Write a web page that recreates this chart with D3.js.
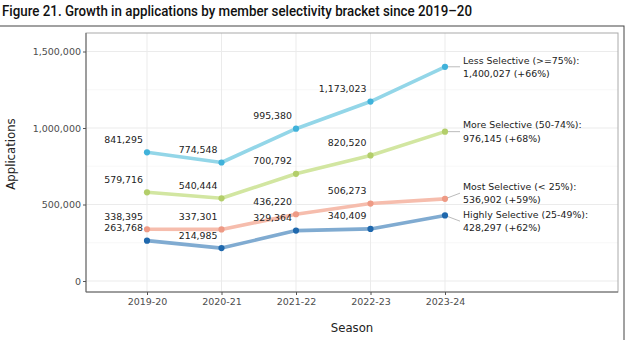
<!DOCTYPE html>
<html><head><meta charset="utf-8">
<script src="https://cdn.jsdelivr.net/npm/d3@7"></script>
<style>body{margin:0;background:#fff}svg{display:block}</style>
</head><body>
<svg id="c" width="626" height="340"></svg>
<script>
const seasons = ["2019-20","2020-21","2021-22","2022-23","2023-24"];
const seriesNames = ["Less Selective (>=75%)","More Selective (50-74%)","Most Selective (< 25%)","Highly Selective (25-49%)"];
const lessSelective = [841295, 774548, 995380, 1173023, 1400027];
const moreSelective = [579716, 540444, 700792, 820520, 976145];
const mostSelective = [338395, 337301, 436220, 506273, 536902];
const highlySelective = [263768, 214985, 329364, 340409, 428297];
const growthPct = ["+66%","+68%","+59%","+62%"];
const yTicks = [0, 500000, 1000000, 1500000];
const yMinorTicks = [250000, 750000, 1250000];
const lineColors = ["#93d6e8","#d2e6a1","#f6bdad","#80abd1"];
const pointColors = ["#40b2da","#b3ce6a","#ee9a85","#1f68ad"];

const values = [lessSelective, moreSelective, mostSelective, highlySelective];
const svg = d3.select("#c");
const font = "'DejaVu Sans', sans-serif";
const P = {l:86, r:618, t:33, b:292};

// outer frame
svg.append("rect").attr("x",-2).attr("y",26).attr("width",626).attr("height",330)
  .attr("fill","none").attr("stroke","#444").attr("stroke-width",1);

// title
svg.append("text").attr("x",2).attr("y",16).text("Figure 21. Growth in applications by member selectivity bracket since 2019\u201320")
  .attr("font-family","Roboto, sans-serif").attr("font-weight",500).attr("font-size",15.5).attr("fill","#111")
  .attr("textLength",470).attr("lengthAdjust","spacingAndGlyphs");

const x = d3.scalePoint().domain(seasons).range([147, 445]);
const y = d3.scaleLinear().domain([0, 1500000]).range([281, 51.5]);

const g = svg.append("g");
// grid
g.selectAll(".mn").data(yMinorTicks).join("line").attr("x1",P.l).attr("x2",P.r)
  .attr("y1",d=>y(d)).attr("y2",d=>y(d)).attr("stroke","#f3f3f3").attr("stroke-width",0.6);
g.selectAll(".mj").data(yTicks).join("line").attr("x1",P.l).attr("x2",P.r)
  .attr("y1",d=>y(d)).attr("y2",d=>y(d)).attr("stroke","#ebebeb").attr("stroke-width",1);
g.selectAll(".vx").data(seasons).join("line").attr("x1",d=>x(d)).attr("x2",d=>x(d))
  .attr("y1",P.t).attr("y2",P.b).attr("stroke","#ebebeb").attr("stroke-width",1);

// panel border
svg.append("rect").attr("x",P.l).attr("y",P.t).attr("width",P.r-P.l).attr("height",P.b-P.t)
  .attr("fill","none").attr("stroke","#aaa").attr("stroke-width",1);
// axis lines
svg.append("line").attr("x1",P.l).attr("x2",P.l).attr("y1",P.t).attr("y2",P.b).attr("stroke","#666");
svg.append("line").attr("x1",P.l).attr("x2",P.r).attr("y1",P.b).attr("y2",P.b).attr("stroke","#666");

// y axis
const yAxis = d3.axisLeft(y).tickValues(yTicks).tickSize(3).tickPadding(2).tickFormat(d3.format(","));
const ya = svg.append("g").attr("transform",`translate(${P.l},0)`).call(yAxis);
ya.select(".domain").remove();
ya.selectAll("line").attr("stroke","#555");
ya.selectAll("text").attr("font-family",font).attr("font-size",9.5).attr("fill","#4d4d4d");

// x axis
const xAxis = d3.axisBottom(x).tickSize(3).tickPadding(3);
const xa = svg.append("g").attr("transform",`translate(0,${P.b})`).call(xAxis);
xa.select(".domain").remove();
xa.selectAll("line").attr("stroke","#555");
xa.selectAll("text").attr("font-family",font).attr("font-size",9.5).attr("fill","#4d4d4d");

// axis titles
svg.append("text").attr("x",352).attr("y",332).attr("text-anchor","middle").text("Season")
  .attr("font-family",font).attr("font-size",11.7).attr("fill","#222");
svg.append("text").attr("transform","translate(15,154) rotate(-90)").attr("text-anchor","middle").text("Applications")
  .attr("font-family",font).attr("font-size",11.7).attr("fill","#222");

// lines
const line = d3.line().x((d,i)=>x(seasons[i])).y(d=>y(d));
values.forEach((vals,k)=>{
  svg.append("path").attr("d",line(vals)).attr("fill","none").attr("stroke",lineColors[k])
    .attr("stroke-width",3.6).attr("stroke-linejoin","round").attr("stroke-linecap","round");
});
// value labels (all but last)
values.forEach((vals,k)=>{
  vals.slice(0,-1).forEach((v,i)=>{
    svg.append("text").attr("x",x(seasons[i])-4).attr("y",y(v)-9.5).attr("text-anchor","end")
      .text(d3.format(",")(v)).attr("font-family",font).attr("font-size",9.4).attr("fill","#222");
  });
});
// end labels with simple repel
const last = seasons.length-1;
const ends = values.map((vals,k)=>({k, py:y(vals[last]), cy:y(vals[last])}));
const sorted = ends.slice().sort((a,b)=>a.py-b.py);
const gap = 28;
for(let it=0; it<50; it++){
  for(let i=1;i<sorted.length;i++){
    const a=sorted[i-1], b=sorted[i];
    const d = b.cy-a.cy;
    if(d<gap){ const s=(gap-d)/2; a.cy-=s; b.cy+=s; }
  }
}
ends.forEach(e=>{
  const px = x(seasons[last]);
  svg.append("line").attr("x1",px).attr("y1",e.py).attr("x2",460).attr("y2",e.cy)
    .attr("stroke","#aaa").attr("stroke-width",0.8);
  const t = svg.append("text").attr("font-family",font).attr("font-size",9.4).attr("fill","#222");
  t.append("tspan").attr("x",463).attr("y",e.cy-3.2).text(seriesNames[e.k]+":");
  t.append("tspan").attr("x",463).attr("y",e.cy+10.1).text(d3.format(",")(values[e.k][last])+" ("+growthPct[e.k]+")");
});
// points
values.forEach((vals,k)=>{
  svg.append("g").selectAll("circle").data(vals).join("circle")
    .attr("cx",(d,i)=>x(seasons[i])).attr("cy",d=>y(d)).attr("r",3.1).attr("fill",pointColors[k]);
});
</script>
</body></html>
